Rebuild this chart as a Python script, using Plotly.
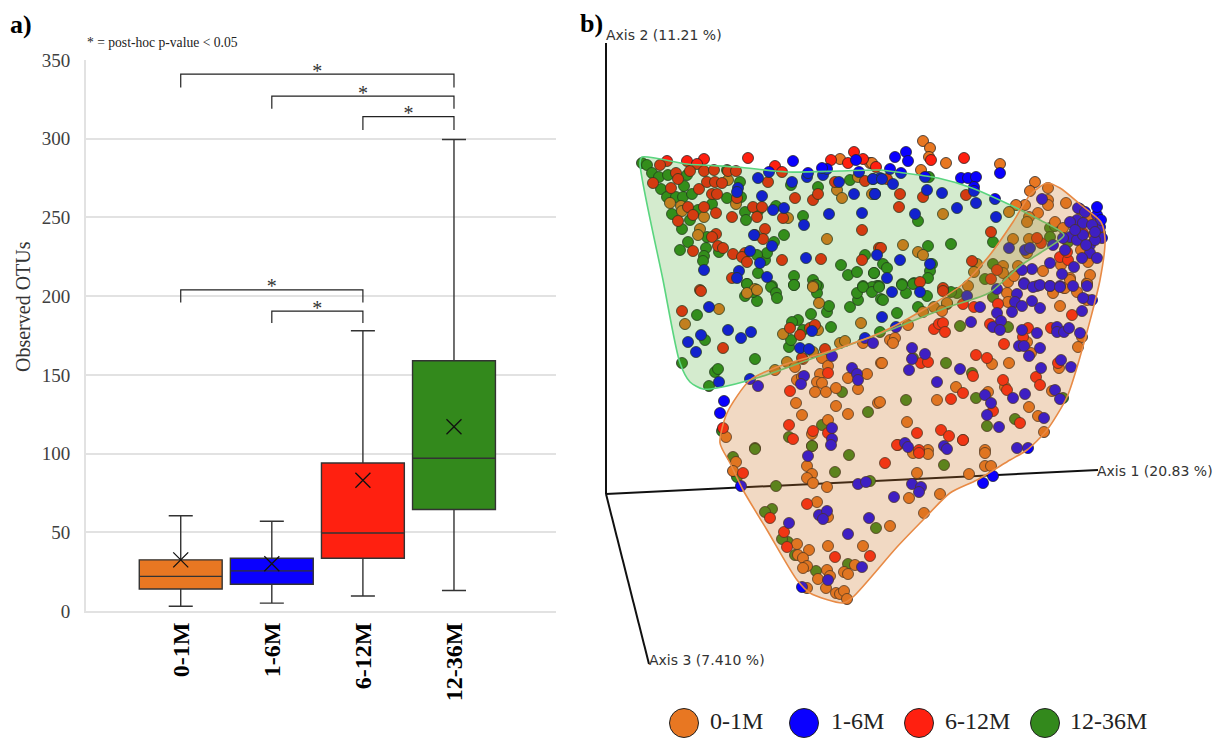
import plotly.graph_objects as go

# ---------- panel a) box plot values ----------
groups = ["0-1M", "1-6M", "6-12M", "12-36M"]
positions = [0, 1, 2, 3]
low = [3, 5, 9.5, 13]
q1 = [14, 17, 33.5, 64.5]
median = [22, 25.5, 49.5, 97]
q3 = [32.5, 33.5, 94, 159]
high = [60.5, 57, 178, 299.5]
means = [32.5, 30, 83, 117]
colors = ["#e87722", "#0a00ff", "#ff2010", "#33891c"]
# significance brackets: from group, to group, top value, left foot, right foot
br_from = [0, 1, 2, 0, 1]
br_to = [3, 3, 3, 2, 2]
br_top = [341, 327, 314, 204, 190.5]
br_foot_l = [332.5, 319, 305.5, 196, 183]
br_foot_r = [332.5, 319, 305.5, 196, 183]

# ---------- panel b) PCoA, projected positions ----------
axis_origin = (606, 494)
axis_ends = [(606, 43), (1098, 470), (649, 664)]

green = [(642,163),(647,165),(652,173),(659,177),(668,175),(661,189),(667,197),(676,197),(684,186),(683,197),(692,194),(687,175),(672,214),(682,229),(690,220),(698,210),(712,204),(727,198),(740,182),(741,197),(745,212),(746,220),(758,211),(776,206),(803,216),(784,235),(818,187),(850,180),(688,242),(680,250),(706,248),(704,256),(703,261),(707,237),(719,252),(758,273),(765,260),(767,253),(774,242),(757,255),(794,276),(794,285),(813,280),(818,286),(772,286),(747,284),(841,265),(848,275),(857,272),(865,255),(874,273),(863,286),(877,286),(791,185),(727,170),
 (929,177),(918,221),(928,246),(951,244),(993,242),(874,273),(883,264),(887,268),(932,264),(930,271),(928,278),(914,283),(902,284),(879,286),(993,264),(985,279),(1050,228),(1050,237),(1055,226),(1068,242),(872,287),
 (697,315),(705,340),(682,363),(715,372),(718,369),(709,386),(755,359),(789,347),(831,327),(811,314),(827,312),(829,306),(850,307),(858,300),(857,293),(863,287),(872,292),(879,287),(881,299),(880,332),(757,301),(753,292),(745,296),(747,284),(771,287),(776,293),(777,298),(794,285),(817,293),(816,285),(791,340),(798,320),(792,322),(803,330),(842,392),(868,412),(822,425),(789,437),(812,446),(722,431),(755,448),
 (993,297),(960,326),(1008,327),(946,363),(913,358),(972,373),(976,398),(906,400),(1015,419),(987,426),(1063,398),(897,313),(918,307),(947,304),(957,293),(951,292),(927,296),(906,293),(902,285),(883,300),(913,284),
 (755,449),(812,446),(849,455),(835,472),(776,486),(870,481),(944,465),(733,457),(737,477),(772,509),(765,512),(876,528),(788,542),(782,539),(795,555),(816,571),(848,564)]

red = [(667,161),(687,161),(704,159),(697,164),(748,158),(775,166),(782,172),(660,165),(690,171),(704,171),(714,170),(728,171),(736,171),(676,173),(678,179),(671,188),(699,189),(707,182),(715,182),(722,183),(653,183),(768,182),(795,198),(813,200),(818,194),(712,194),(717,194),(737,198),(688,207),(704,207),(716,213),(732,217),(693,215),(678,221),(753,207),(762,207),(757,217),(783,218),(765,229),(755,235),(763,239),(716,234),(712,237),(693,251),(718,246),(723,248),(733,254),(745,253),(742,257),(747,262),(782,260),(821,259),(862,230),(862,260),(879,248),(732,278),(700,290),(831,160),(854,152),(848,163),(863,159),(835,182),(865,181),(876,167),
 (964,158),(931,160),(900,194),(923,197),(966,195),(899,207),(991,232),(881,248),(887,179),(972,261),(1041,243),(1037,238),(1060,257),(1068,260),(1067,252),(1083,233),(920,282),(943,288),(991,279),(997,270),
 (701,291),(682,311),(723,348),(828,373),(790,391),(789,425),(813,431),(828,433),(793,439),(723,428),(802,358),(825,349),(790,328),(800,335),(810,328),(815,325),
 (943,291),(963,304),(974,307),(998,304),(934,329),(939,324),(943,323),(945,332),(990,324),(1028,328),(1023,337),(1004,344),(976,355),(987,358),(921,363),(928,362),(973,376),(1003,380),(1007,390),(1036,377),(1040,385),(1058,363),(1072,315),(1051,328),(963,393),(951,399),(993,411),(1020,423),(941,430),(949,436),(963,440),(917,433),(898,445),(919,450),
 (743,473),(885,463),(897,445),(919,453),(963,440),(807,504),(770,518),(784,532),(787,547),(835,557),(870,556)]

orange = [(840,159),(870,163),(728,180),(837,190),(842,198),(858,177),(872,194),(736,204),(681,206),(682,211),(704,217),(700,229),(698,235),(788,218),(827,239),(813,286),(755,289),(670,203),
 (923,141),(930,148),(929,157),(946,163),(921,170),(1000,164),(1035,182),(1030,191),(1048,188),(1048,200),(1048,205),(1066,203),(1025,205),(1016,205),(1009,212),(1038,213),(1029,217),(1027,222),(1055,222),(1073,223),(1063,228),(943,214),(903,245),(918,252),(923,255),(1013,239),(1029,239),(977,264),(974,272),(1003,266),(1003,273),(968,286),(1043,271),(1081,250),(1061,265),(1070,278),(1087,283),(1088,262),(1090,275),(1094,235),(1100,233),(1088,217),(1080,209),(1008,282),(1014,276),(1018,266),(1064,288),(872,163),(1027,253),
 (719,309),(685,324),(783,334),(819,303),(861,323),(813,287),(747,293),(757,290),(818,330),(775,370),(787,362),(795,367),(803,359),(813,352),(822,358),(828,366),(840,343),(845,341),(863,343),(797,380),(802,377),(820,374),(817,382),(822,383),(815,392),(826,392),(836,388),(848,378),(858,389),(867,374),(881,363),(796,403),(802,415),(836,406),(848,414),(878,403),(828,420),(726,437),(812,434),(890,340),
 (1007,293),(1008,302),(1053,293),(1060,306),(1065,288),(1077,292),(1087,300),(1087,284),(1070,280),(947,303),(934,307),(923,312),(908,325),(942,311),(895,338),(893,343),(882,363),(992,364),(1009,363),(1031,353),(1082,337),(1078,347),(1059,368),(956,387),(988,392),(937,400),(1052,391),(1029,407),(1038,416),(1044,432),(907,422),(880,402),(985,450),(928,450),(1027,342),(1005,387),
 (736,462),(733,471),(807,466),(812,474),(807,478),(813,483),(827,487),(917,473),(928,454),(913,453),(985,453),(985,466),(991,466),(969,474),(940,494),(909,498),(924,513),(817,502),(890,526),(828,517),(797,544),(809,550),(798,555),(803,558),(828,546),(863,546),(807,566),(803,568),(827,570),(855,565),(844,572),(848,574),(818,579),(830,576),(826,588),(807,588),(836,593),(840,594),(844,591),(847,599)]

blue = [(793,161),(769,172),(758,178),(738,188),(737,192),(762,196),(792,182),(807,177),(808,173),(823,175),(827,169),(822,168),(856,160),(859,172),(873,179),(880,178),(839,182),(854,194),(875,194),(829,214),(862,213),(773,210),(784,208),(804,225),(754,235),(772,246),(750,251),(760,263),(806,258),(704,270),(739,271),(737,278),(767,277),(877,255),
 (895,157),(906,152),(908,161),(890,169),(901,173),(1000,173),(961,178),(968,178),(976,177),(974,187),(974,191),(927,190),(942,193),(976,203),(957,208),(995,199),(996,217),(915,214),(900,260),(887,278),(930,264),(873,179),(882,179),(893,184),(875,194),(1042,199),(925,177),(1078,208),(1077,220),(1097,215),(1100,227),(1083,223),(1070,222),(1102,238),(1090,245),(1070,237),(1077,240),(1063,238),(1053,245),(1090,253),(1097,258),(1083,235),(1074,267),(1050,263),(1032,269),(1022,270),(1024,283),(1037,286),(1050,286),(1060,286),(1062,274),(1073,286),(1087,286),(1009,248),(1025,250),(1030,248),(1097,207),(1101,220),
 (709,307),(728,330),(741,338),(751,332),(701,335),(688,342),(696,352),(719,382),(750,379),(758,386),(724,401),(720,413),(800,348),(809,349),(812,331),(832,356),(804,376),(801,384),(852,368),(857,374),(858,380),(865,338),(873,343),(882,317),(832,428),(832,439),(831,445),
 (997,289),(1024,284),(1033,287),(1040,285),(1050,286),(1060,287),(1017,294),(1015,302),(1032,301),(1040,308),(1022,306),(1012,312),(997,313),(980,307),(971,322),(993,327),(1001,321),(1000,330),(1022,330),(1037,333),(1019,346),(1024,346),(1040,348),(1029,356),(1057,327),(1057,332),(1064,332),(1069,328),(1082,311),(1092,300),(1080,333),(1041,368),(1071,367),(1061,360),(960,369),(937,382),(909,370),(912,348),(925,354),(912,359),(985,395),(991,403),(987,415),(999,427),(1013,398),(1025,394),(1055,390),(1060,399),(1044,418),(896,327),(905,443),(908,447),(944,446),(947,449),(1017,448),(1028,448),(1083,298),(967,296),(892,292),(920,292),
 (808,456),(858,484),(866,482),(912,484),(921,487),(919,492),(894,497),(741,486),(983,483),(993,476),(819,515),(827,511),(823,519),(869,518),(789,523),(848,534),(862,567),(828,580),(802,587),
 (1085,212),(1092,225),(1095,240),(1086,245),(1075,230),(1065,250),(1082,258),(1095,232)]

hull_green = [(642,157),(687,164),(737,167),(787,172),(840,171),(880,170),(904,173),(938,178),(972,188),(1006,203),(1040,220),(1064,235),(1040,253),(1020,266),(989,293),(948,307),(890,330),(827,353),(760,377),(717,388),(703,389),(690,382),(680,363),(663,280),(640,163)]
hull_orange = [(1047,183),(1030,195),(1013,222),(989,256),(963,284),(923,310),(880,333),(827,352),(777,367),(750,380),(727,413),(720,443),(730,463),(743,490),(767,530),(797,580),(810,593),(843,603),(853,597),(897,547),(923,520),(950,493),(977,480),(1010,460),(1027,450),(1047,430),(1067,397),(1080,357),(1100,280),(1105,239),(1101,222),(1081,205),(1060,188)]

legend_x = [684, 804, 919, 1045]
legend_text_x = [710, 831, 945, 1070]
legend_y = 723

fig = go.Figure()
SERIF = "Liberation Serif"
DARK = "#333333"

# ---------- panel a ----------
for i, g in enumerate(groups):
    fig.add_trace(go.Box(x=[positions[i]], q1=[q1[i]], median=[median[i]], q3=[q3[i]],
                         lowerfence=[low[i]], upperfence=[high[i]], width=0.91, whiskerwidth=0.29,
                         fillcolor=colors[i], line=dict(color=DARK, width=1.4), boxpoints=False,
                         xaxis="x", yaxis="y", showlegend=False, name=g))
fig.add_trace(go.Scatter(x=positions, y=means, mode="markers", xaxis="x", yaxis="y", showlegend=False,
                         marker=dict(symbol="x-thin", size=15, line=dict(color="#111111", width=1.3))))
for a, b, t, fl, fr in zip(br_from, br_to, br_top, br_foot_l, br_foot_r):
    fig.add_trace(go.Scatter(x=[a, a, b, b], y=[fl, t, t, fr], mode="lines", xaxis="x", yaxis="y",
                             showlegend=False, line=dict(color="#222222", width=1.2)))
    fig.add_trace(go.Scatter(x=[(a + b) / 2], y=[t + 1], mode="text", text=["*"], textposition="middle center",
                             xaxis="x", yaxis="y", showlegend=False, cliponaxis=False,
                             textfont=dict(family=SERIF, size=20, color=DARK)))

# ---------- panel b ----------
for (ex, ey) in axis_ends:
    fig.add_trace(go.Scatter(x=[axis_origin[0], ex], y=[axis_origin[1], ey], mode="lines", xaxis="x2", yaxis="y2",
                             showlegend=False, line=dict(color="#111111", width=2)))
for pts, col in [(green, colors[3]), (orange, colors[0]), (red, colors[2]), (blue, colors[1])]:
    fig.add_trace(go.Scatter(x=[p[0] for p in pts], y=[p[1] for p in pts], mode="markers", xaxis="x2", yaxis="y2",
                             showlegend=False,
                             marker=dict(size=11, color=col, line=dict(color="rgba(30,30,30,0.75)", width=1))))
for hull, fill, edge in [(hull_green, "rgba(50,160,25,0.21)", "#5ad57f"),
                         (hull_orange, "rgba(205,115,35,0.27)", "#e88a45")]:
    xs = [p[0] for p in hull] + [hull[0][0]]
    ys = [p[1] for p in hull] + [hull[0][1]]
    fig.add_trace(go.Scatter(x=xs, y=ys, mode="lines", fill="toself", fillcolor=fill, xaxis="x2", yaxis="y2",
                             showlegend=False, hoverinfo="skip",
                             line=dict(color=edge, width=1.6, shape="spline", smoothing=0.7)))
fig.add_trace(go.Scatter(x=legend_x, y=[legend_y] * 4, mode="markers", xaxis="x2", yaxis="y2", showlegend=False,
                         marker=dict(size=29, color=colors, line=dict(color="#222222", width=1))))
fig.add_trace(go.Scatter(x=legend_text_x, y=[legend_y] * 4, mode="text", text=groups, textposition="middle right",
                         xaxis="x2", yaxis="y2", showlegend=False,
                         textfont=dict(family=SERIF, size=24, color="#222222")))

def note(x, y, text, size, family=SERIF, color="#222222", bold=False, angle=0, anchor="left"):
    fig.add_annotation(xref="paper", yref="paper", x=(x - 2) / 1220, y=1 - y / 740, text=f"<b>{text}</b>" if bold else text,
                       showarrow=False, xanchor=anchor, yanchor="middle", textangle=angle,
                       font=dict(family=family, size=size, color=color))

note(10, 24, "a)", 26, bold=True, color="#000000")
note(580, 23, "b)", 26, bold=True, color="#000000")
note(87, 43, "* = post-hoc p-value &lt; 0.05", 13.6)
note(25, 307, "Observed OTUs", 20, angle=-90, anchor="center", color="#333333")
note(606, 35, "Axis 2 (11.21 %)", 14, family="DejaVu Sans", color="#333333")
note(1097, 471, "Axis 1 (20.83 %)", 14, family="DejaVu Sans", color="#333333")
note(649, 660, "Axis 3 (7.410 %)", 14, family="DejaVu Sans", color="#333333")

GRID = "#e2e2e2"
fig.update_layout(
    width=1220, height=740, margin=dict(l=0, r=0, t=0, b=0), paper_bgcolor="white", plot_bgcolor="white",
    showlegend=False,
    xaxis=dict(domain=[86 / 1220, 556 / 1220], range=[-1.04, 4.12], tickvals=positions, ticktext=groups,
               tickangle=-90, showgrid=False, zeroline=False, showline=True, linecolor=GRID, linewidth=2,
               automargin=False, ticks="", ticklabelstandoff=0,
               tickfont=dict(family=SERIF, size=24, color="#000000", weight="bold"), anchor="y"),
    yaxis=dict(domain=[1 - 611 / 740, 1 - 60 / 740], range=[0, 350], tickvals=[0, 50, 100, 150, 200, 250, 300, 350],
               showgrid=True, gridcolor=GRID, gridwidth=2, zeroline=False, showline=True, linecolor=GRID, linewidth=2,
               automargin=False, ticks="", ticklabelstandoff=10,
               tickfont=dict(family=SERIF, size=19, color="#404040"), anchor="x"),
    xaxis2=dict(domain=[570 / 1220, 1], range=[570, 1220], visible=False, automargin=False, anchor="y2"),
    yaxis2=dict(domain=[0, 1], range=[740, 0], visible=False, automargin=False, anchor="x2"),
)
fig.write_html("out.html", config={"displayModeBar": False}, post_script="document.body.style.margin='0';")
